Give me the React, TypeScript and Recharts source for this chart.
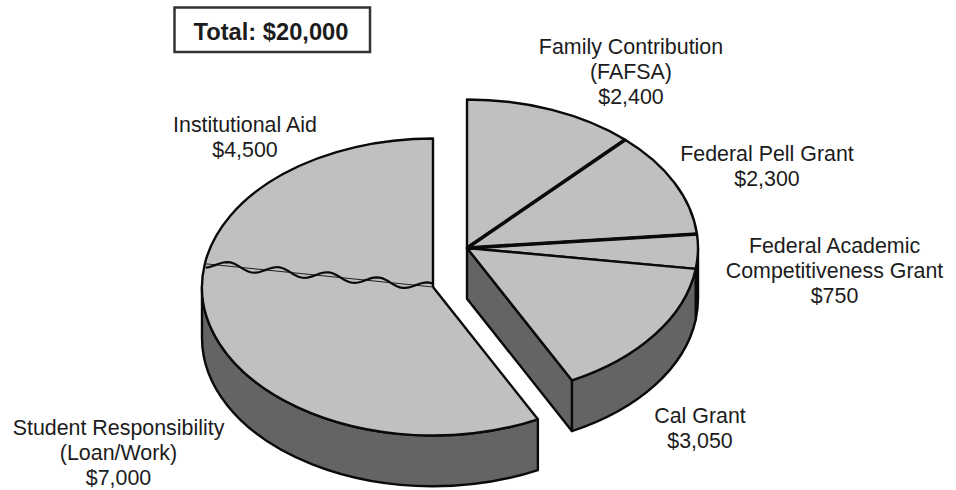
import { Pie, PieChart } from "recharts";

type Slice = { name: string; value: number };

const awardNames = [
  "Family Contribution\n(FAFSA)",
  "Federal Pell Grant",
  "Federal Academic\nCompetitiveness Grant",
  "Cal Grant",
];
const awardValues = [2400, 2300, 750, 3050];
const selfNames = ["Student Responsibility\n(Loan/Work)", "Institutional Aid"];
const selfValues = [7000, 4500];

const toSlices = (names: string[], values: number[]): Slice[] =>
  names.map((name, i) => ({ name, value: values[i] }));

const awardSlices = toSlices(awardNames, awardValues);
const selfSlices = toSlices(selfNames, selfValues);

const sum = (values: number[]) => values.reduce((a, b) => a + b, 0);
const total = sum(awardValues) + sum(selfValues);
// the two pieces share one circle, so the split angle comes from the values
const splitAngle = 90 - (360 * sum(awardValues)) / total;

const TOP = "#c0c0c0";
const WALL = "#646464";
const INK = "#0a0a0a";
const SQUASH = 0.643;
const DEPTH = 50.7;

// label centre x and first baseline y
const labelSpots: Record<string, [number, number]> = {
  "Family Contribution\n(FAFSA)": [631, 54],
  "Federal Pell Grant": [767, 161],
  "Federal Academic\nCompetitiveness Grant": [834.5, 253],
  "Cal Grant": [700, 423],
  "Student Responsibility\n(Loan/Work)": [118.5, 435],
  "Institutional Aid": [245, 131.5],
};

// slices whose leading radius is ruled heavier than the rest
const heavyRules = ["Federal Pell Grant", "Federal Academic\nCompetitiveness Grant"];

const money = (v: number) => `$${v.toLocaleString("en-US")}`;

const renderLabel = (props: any) => {
  const name: string = props.payload?.name ?? props.name;
  const value: number = props.payload?.value ?? props.value;
  const [x, y] = labelSpots[name];
  const lines = [...name.split("\n"), money(value)];
  return (
    <text x={x} y={y} textAnchor="middle" fontFamily="Liberation Sans" fontSize={21.4} fill="#1c1c1c">
      {lines.map((line, i) => (
        <tspan key={i} x={x} dy={i === 0 ? 0 : 25.2}>
          {line}
        </tspan>
      ))}
    </text>
  );
};

const rimPoint = (cx: number, cy: number, r: number, deg: number) => {
  const rad = (deg * Math.PI) / 180;
  return [cx + r * Math.cos(rad), cy - r * SQUASH * Math.sin(rad)];
};

// clockwise elliptical arc between two angles, continuing the current path
const arcTo = (cx: number, cy: number, r: number, from: number, to: number) => {
  const [x, y] = rimPoint(cx, cy, r, to);
  return `A ${r} ${r * SQUASH} 0 ${from - to > 180 ? 1 : 0} 1 ${x} ${y}`;
};

const drawWall = (cx: number, cy: number, r: number, start: number, end: number) => {
  // only the front half of the rim shows a side
  const from = Math.min(start, 0);
  const to = Math.max(end, -180);
  if (from <= to) return null;
  const [ax, ay] = rimPoint(cx, cy, r, from);
  const [bx, by] = rimPoint(cx, cy, r, to);
  const d = [
    `M ${ax} ${ay}`,
    arcTo(cx, cy, r, from, to),
    `L ${bx} ${by + DEPTH}`,
    `A ${r} ${r * SQUASH} 0 ${from - to > 180 ? 1 : 0} 0 ${ax} ${ay + DEPTH}`,
    "Z",
  ].join(" ");
  return <path d={d} fill={WALL} stroke={INK} strokeWidth={2.4} strokeLinejoin="round" />;
};

const AwardSlice = (props: any) => {
  const { cx, cy, outerRadius: r, startAngle, endAngle } = props;
  const name: string = props.payload?.name ?? props.name;
  const [ax, ay] = rimPoint(cx, cy, r, startAngle);
  const [bx, by] = rimPoint(cx, cy, r, endAngle);
  return (
    <g>
      {drawWall(cx, cy, r, startAngle, endAngle)}
      {name === "Cal Grant" && (
        <path
          d={`M ${cx} ${cy} L ${bx} ${by} L ${bx} ${by + DEPTH} L ${cx} ${cy + DEPTH} Z`}
          fill={WALL}
          stroke={INK}
          strokeWidth={2.4}
          strokeLinejoin="round"
        />
      )}
      <path
        d={`M ${cx} ${cy} L ${ax} ${ay} ${arcTo(cx, cy, r, startAngle, endAngle)} Z`}
        fill={TOP}
        stroke={INK}
        strokeWidth={2.4}
        strokeLinejoin="round"
      />
      {heavyRules.includes(name) && <line x1={cx} y1={cy} x2={ax} y2={ay} stroke={INK} strokeWidth={3.6} />}
    </g>
  );
};

// squiggly tear along the radius between the two self-funded slices
const seamPath = (cx: number, cy: number, r: number, deg: number) => {
  const [rx, ry] = rimPoint(cx, cy, r, deg);
  const len = Math.hypot(rx - cx, ry - cy);
  const ux = (rx - cx) / len;
  const uy = (ry - cy) / len;
  const pts: string[] = [];
  for (let d = 0; d <= len; d += 3) {
    const off = 4 * Math.cos((2 * Math.PI * (d - 5)) / 50.2);
    pts.push(`${cx + ux * d - uy * off},${cy + uy * d + ux * off}`);
  }
  return `M ${pts.join(" L ")}`;
};

const SelfSlice = (props: any) => {
  const { cx, cy, outerRadius: r, startAngle, endAngle } = props;
  const name: string = props.payload?.name ?? props.name;
  const isAid = name === "Institutional Aid";
  const [ax, ay] = rimPoint(cx, cy, r, startAngle);
  const arc = arcTo(cx, cy, r, startAngle, endAngle);
  const outline = isAid
    ? `M ${ax} ${ay} ${arc} L ${cx} ${cy}`
    : `M ${cx} ${cy} L ${ax} ${ay} ${arc}`;
  return (
    <g>
      {drawWall(cx, cy, r, startAngle, endAngle)}
      <path d={`M ${cx} ${cy} L ${ax} ${ay} ${arc} Z`} fill={TOP} stroke="none" />
      <path d={outline} fill="none" stroke={INK} strokeWidth={2.4} strokeLinejoin="round" />
      {isAid && (
        <>
          <line x1={cx} y1={cy} x2={ax} y2={ay} stroke={INK} strokeWidth={0.9} />
          <path d={seamPath(cx, cy, r, startAngle)} fill="none" stroke={INK} strokeWidth={2.2} />
        </>
      )}
    </g>
  );
};

export default function App() {
  return (
    <div style={{ position: "absolute", left: 0, top: 0, width: 956, height: 490, background: "#fff" }}>
      <PieChart width={956} height={490} margin={{ top: 0, right: 0, bottom: 0, left: 0 }}>
        <rect x={174.5} y={7.5} width={195.5} height={44.5} fill="#fff" stroke="#333" strokeWidth={2.5} />
        <text
          x={271}
          y={40}
          textAnchor="middle"
          fontFamily="Liberation Sans"
          fontWeight="bold"
          fontSize={23.7}
          fill="#1c1c1c"
        >
          {`Total: ${money(total)}`}
        </text>
        <Pie
          data={selfSlices}
          dataKey="value"
          nameKey="name"
          cx={433}
          cy={287}
          outerRadius={231}
          startAngle={splitAngle}
          endAngle={-270}
          shape={SelfSlice}
          label={renderLabel}
          labelLine={false}
          isAnimationActive={false}
        />
        <Pie
          data={awardSlices}
          dataKey="value"
          nameKey="name"
          cx={467}
          cy={248}
          outerRadius={231}
          startAngle={90}
          endAngle={splitAngle}
          shape={AwardSlice}
          label={renderLabel}
          labelLine={false}
          isAnimationActive={false}
        />
      </PieChart>
    </div>
  );
}
